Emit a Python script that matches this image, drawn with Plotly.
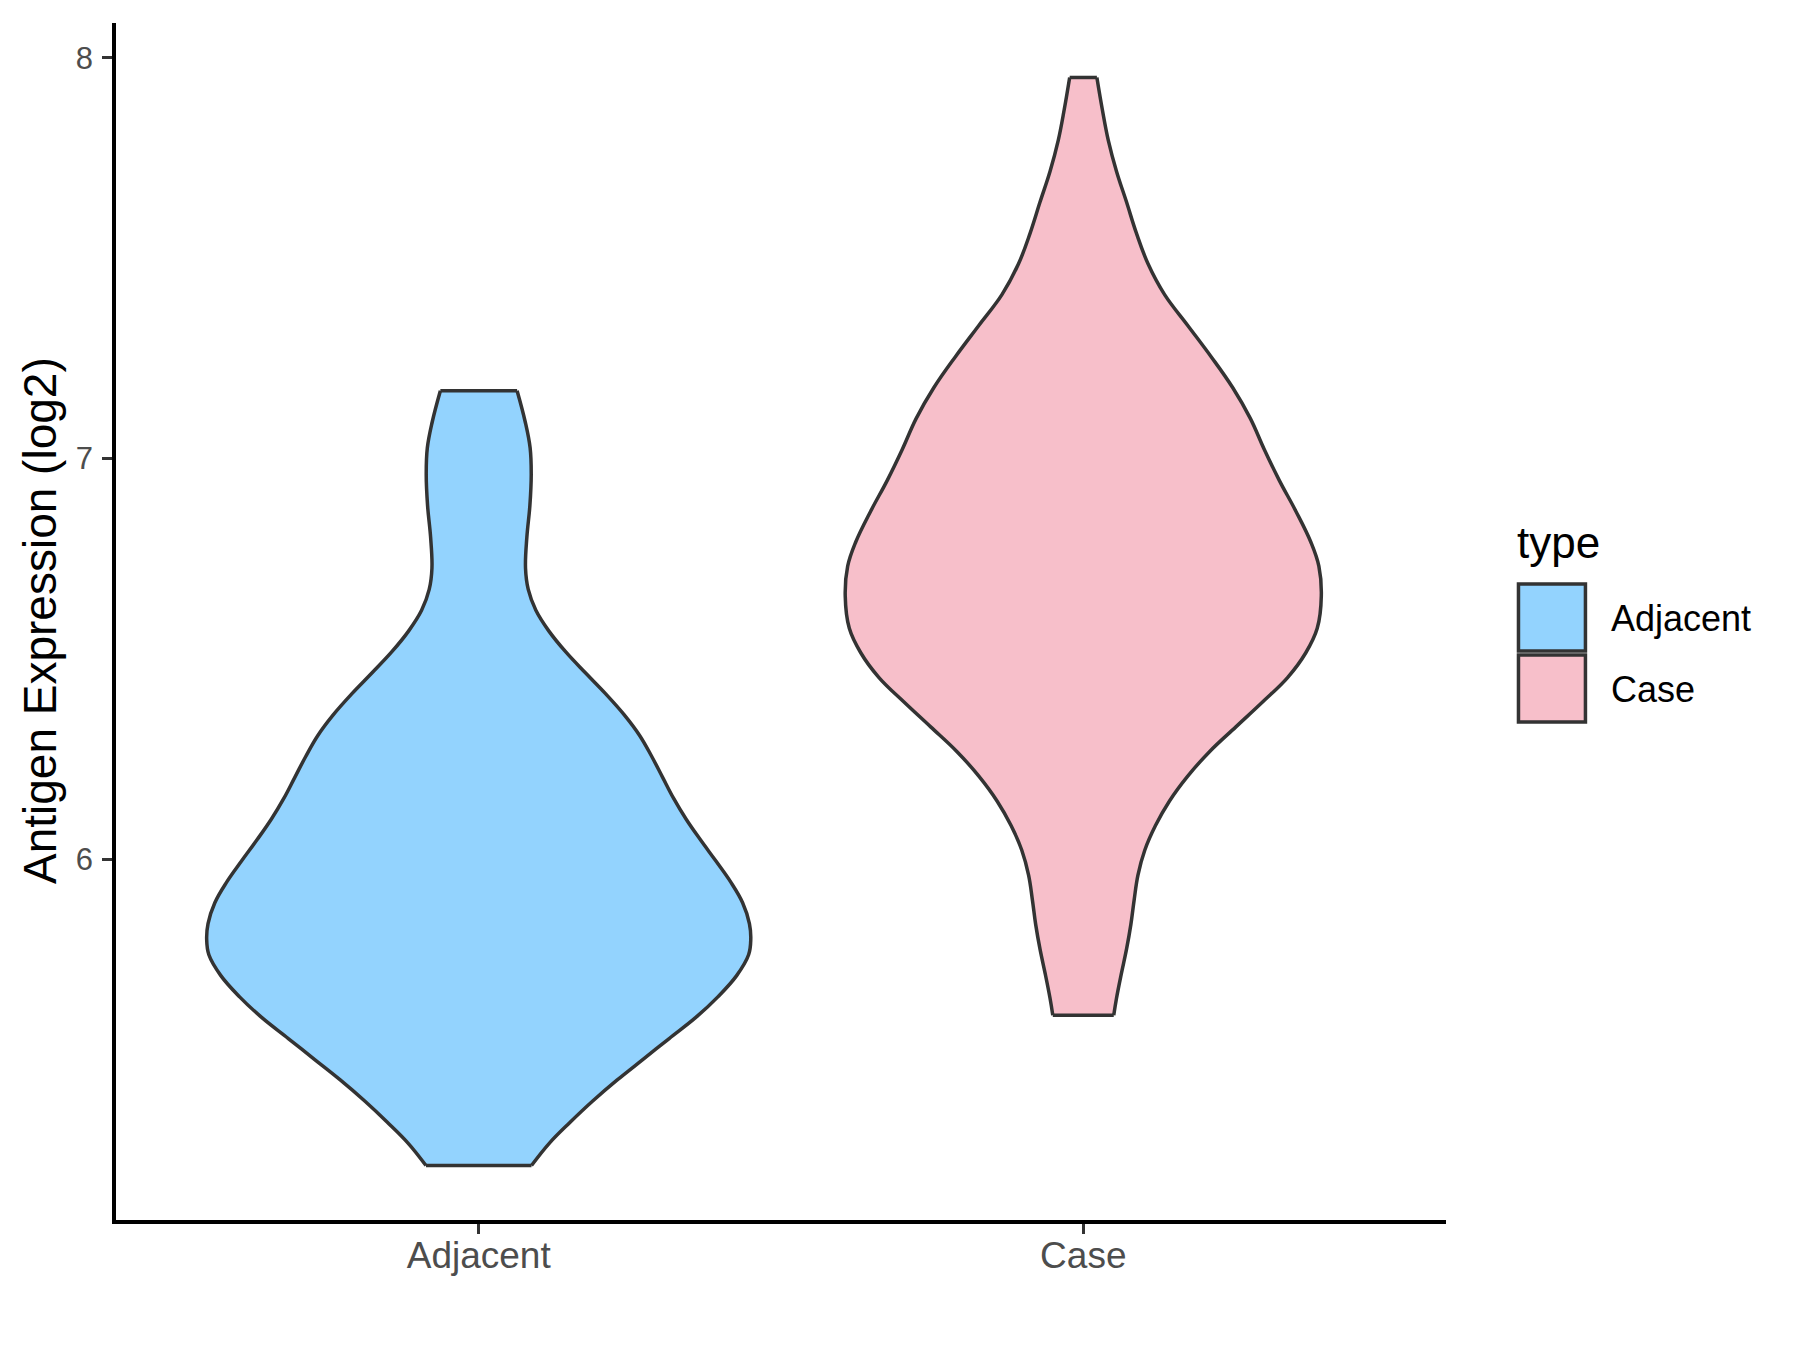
import plotly.graph_objects as go

# ---- data ----
categories = ["Adjacent", "Case"]
fill_colors = ["#93D3FE", "#F7BFCA"]

adj_values = [5.235, 5.291, 5.343, 5.396, 5.448, 5.500, 5.552, 5.604, 5.656, 5.709,
              5.761, 5.800, 5.839, 5.891, 5.943, 5.995, 6.048, 6.100, 6.152, 6.204,
              6.256, 6.308, 6.360, 6.413, 6.465, 6.517, 6.569, 6.621, 6.673, 6.726,
              6.804, 6.882, 6.960, 7.026, 7.091, 7.169]
adj_density = [0.194, 0.260, 0.336, 0.419, 0.508, 0.604, 0.700, 0.797, 0.879, 0.948,
               0.992, 1.000, 0.995, 0.970, 0.926, 0.872, 0.815, 0.762, 0.716, 0.676,
               0.636, 0.592, 0.535, 0.466, 0.392, 0.320, 0.258, 0.210, 0.182, 0.172,
               0.177, 0.188, 0.193, 0.189, 0.171, 0.141]

case_values = [5.610, 5.652, 5.714, 5.775, 5.837, 5.898, 5.960, 6.022, 6.083, 6.145,
               6.207, 6.268, 6.330, 6.392, 6.453, 6.515, 6.576, 6.657, 6.731, 6.792,
               6.869, 6.946, 7.023, 7.100, 7.177, 7.254, 7.332, 7.409, 7.486, 7.563,
               7.640, 7.717, 7.794, 7.871, 7.951]
case_density = [0.112, 0.122, 0.140, 0.159, 0.175, 0.187, 0.201, 0.226, 0.265, 0.317,
                0.384, 0.464, 0.561, 0.659, 0.751, 0.818, 0.860, 0.875, 0.866, 0.836,
                0.781, 0.720, 0.665, 0.614, 0.549, 0.470, 0.384, 0.299, 0.238, 0.195,
                0.159, 0.122, 0.092, 0.070, 0.050]

y_tick_vals = [6, 7, 8]
y_title = "Antigen Expression (log2)"
legend_title = "type"

# ---- layout geometry (page pixels; the HTML body adds an 8px offset) ----
W, H = 1800, 1350
OFF = 8
L, R, T, B = 116, 1446.5, 23, 1220
FONT = "Liberation Sans, Arial, Helvetica, sans-serif"
OUTLINE = "#333333"
LW = 3.5
SMOOTH = 1.1

def px_x(p):
    return (p - L) / (R - L)

def px_y(p):
    return (B - p) / (B - T)

groups = [(adj_values, adj_density), (case_values, case_density)]
dmax = max(max(adj_density), max(case_density))
half_max = 0.45

fig = go.Figure()
for i, (vals, dens) in enumerate(groups):
    center = i + 1
    hw = [half_max * d / dmax for d in dens]
    left = [center - h for h in hw]
    right = [center + h for h in hw]
    # filled body
    xs = left + right[::-1] + [left[0]]
    ys = list(vals) + list(vals)[::-1] + [vals[0]]
    fig.add_trace(go.Scatter(
        x=xs, y=ys, mode="lines", fill="toself", fillcolor=fill_colors[i],
        line=dict(width=0), showlegend=False, hoverinfo="skip"))
    # curved sides
    fig.add_trace(go.Scatter(
        x=left + [None] + right, y=list(vals) + [None] + list(vals), mode="lines",
        line=dict(color=OUTLINE, width=LW, shape="spline", smoothing=SMOOTH),
        connectgaps=False, showlegend=False, hoverinfo="skip"))
    # flat ends
    fig.add_trace(go.Scatter(
        x=[left[0], right[0], None, left[-1], right[-1]],
        y=[vals[0], vals[0], None, vals[-1], vals[-1]], mode="lines",
        line=dict(color=OUTLINE, width=LW),
        connectgaps=False, showlegend=False, hoverinfo="skip"))

axis_common = dict(showline=True, linecolor="black", linewidth=3.5, mirror=False,
                   showgrid=False, zeroline=False, ticks="outside", ticklen=10,
                   tickwidth=2.8, tickcolor="#333333")

fig.update_layout(
    width=W, height=H,
    margin=dict(l=L - OFF, r=W - (R - OFF), t=T - OFF, b=H - (B - OFF), autoexpand=False),
    paper_bgcolor="white", plot_bgcolor="white",
    font=dict(family=FONT),
    xaxis=dict(range=[0.4, 2.6], tickvals=[1, 2], ticktext=categories,
               tickfont=dict(size=37, color="#4D4D4D", family=FONT),
               ticklabelstandoff=-10, **axis_common),
    yaxis=dict(range=[5.099, 8.087], tickvals=y_tick_vals,
               ticktext=[str(v) for v in y_tick_vals],
               tickfont=dict(size=31, color="#4D4D4D", family=FONT),
               ticklabelstandoff=3, **axis_common),
)

# y-axis title
fig.add_annotation(x=px_x(40), y=px_y(621), xref="paper", yref="paper",
                   text=y_title, textangle=-90, showarrow=False,
                   font=dict(size=46, color="black", family=FONT),
                   xanchor="center", yanchor="middle")

# legend (drawn manually to match ggplot's large keys)
fig.add_annotation(x=px_x(1516), y=px_y(542), xref="paper", yref="paper",
                   text=legend_title, showarrow=False,
                   font=dict(size=44, color="black", family=FONT),
                   xanchor="left", yanchor="middle")
key_tops = [584, 655]
for i, cat in enumerate(categories):
    top = key_tops[i]
    fig.add_shape(type="rect", xref="paper", yref="paper",
                  x0=px_x(1519), x1=px_x(1586), y0=px_y(top + 67), y1=px_y(top),
                  fillcolor=fill_colors[i], line=dict(color=OUTLINE, width=3.5))
    fig.add_annotation(x=px_x(1610), y=px_y(top + 34), xref="paper", yref="paper",
                       text=cat, showarrow=False,
                       font=dict(size=36, color="black", family=FONT),
                       xanchor="left", yanchor="middle")

fig.write_html("out.html")
